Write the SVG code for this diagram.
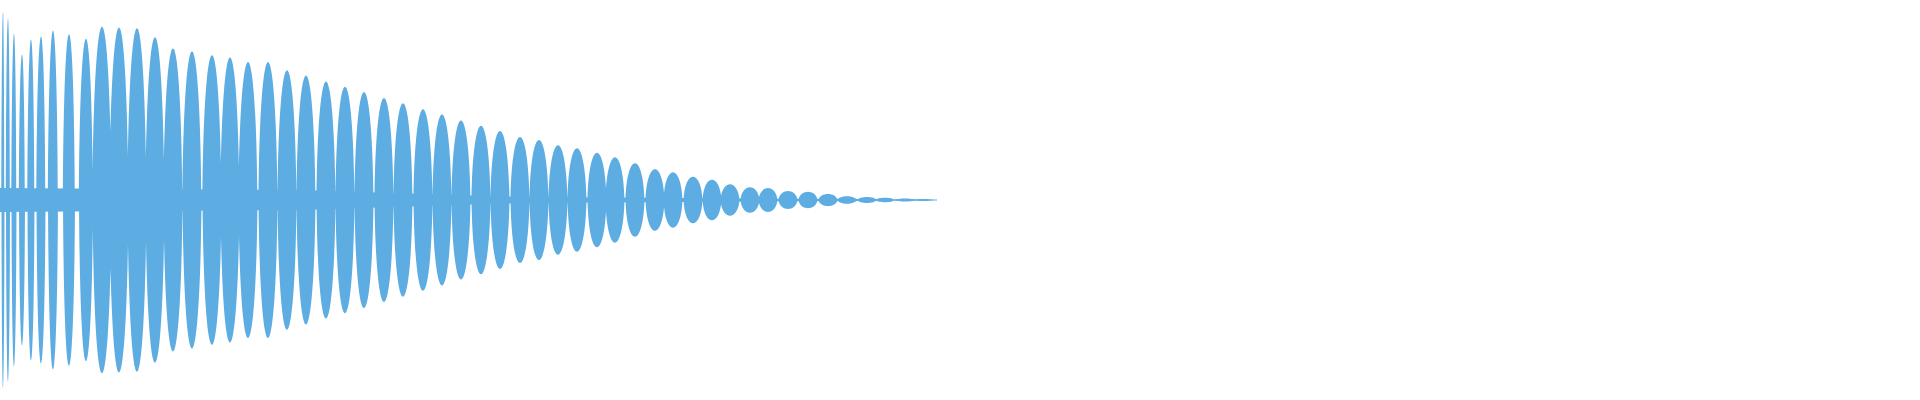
<svg xmlns="http://www.w3.org/2000/svg" width="1920" height="400" viewBox="0 0 1920 400">
<style>.w{fill:#5dade2;stroke:none}</style>
<rect width="1920" height="400" fill="#fff"/>
<g id="waveform">
<polygon class="w" points="0,188 300,190 520,197 937,199.5 937,200.5 520,203 300,210 0,212"/>
<path class="w" d="
M1.5 200 c0.3 -251 2.7 -251 3 0 c-0.3 251 -2.7 251 -3 0z
M6 200 c0.4 -242 3.6 -242 4 0 c-0.4 242 -3.6 242 -4 0z
M11.5 200 c0.5 -222 4.5 -222 5 0 c-0.5 222 -4.5 222 -5 0z
M19 200 c0.6 -194 5.4 -194 6 0 c-0.6 194 -5.4 194 -6 0z
M27.5 200 c0.7 -214 6.3 -214 7 0 c-0.7 214 -6.3 214 -7 0z
M36.5 200 c0.8 -218 8.2 -218 9 0 c-0.8 218 -8.2 218 -9 0z
M48 200 c1 -226 9 -226 10 0 c-1 226 -9 226 -10 0z
M63 200 c1 -221 11 -221 12 0 c-1 221 -11 221 -12 0z
M79 200 c1.2 -215 12.8 -215 14 0 c-1.2 215 -12.8 215 -14 0z
M92.5 200 c1.5 -231 17.5 -231 19 0 c-1.5 231 -17.5 231 -19 0z
M109.5 200 c1.5 -230 17.5 -230 19 0 c-1.5 230 -17.5 230 -19 0z
M127.5 200 c1.5 -229 17.5 -229 19 0 c-1.5 229 -17.5 229 -19 0z
M145.5 200 c1.5 -217 17.5 -217 19 0 c-1.5 217 -17.5 217 -19 0z
M163.5 200 c1.5 -202 17.5 -202 19 0 c-1.5 202 -17.5 202 -19 0z
M182.5 200 c1.5 -198 17.5 -198 19 0 c-1.5 198 -17.5 198 -19 0z
M202.5 200 c1.5 -193 17.5 -193 19 0 c-1.5 193 -17.5 193 -19 0z
M220.5 200 c1.5 -190 17.5 -190 19 0 c-1.5 190 -17.5 190 -19 0z
M238.5 200 c1.5 -184 17.5 -184 19 0 c-1.5 184 -17.5 184 -19 0z
M258.5 200 c1.5 -184 17.5 -184 19 0 c-1.5 184 -17.5 184 -19 0z
M277.5 200 c1.5 -173 17.5 -173 19 0 c-1.5 173 -17.5 173 -19 0z
M296.5 200 c1.5 -166 17.5 -166 19 0 c-1.5 166 -17.5 166 -19 0z
M316.5 200 c1.5 -158 17.5 -158 19 0 c-1.5 158 -17.5 158 -19 0z
M335.5 200 c1.5 -151 17.5 -151 19 0 c-1.5 151 -17.5 151 -19 0z
M354.5 200 c1.5 -144 17.5 -144 19 0 c-1.5 144 -17.5 144 -19 0z
M374.5 200 c1.5 -136 17.5 -136 19 0 c-1.5 136 -17.5 136 -19 0z
M393.5 200 c1.5 -129 17.5 -129 19 0 c-1.5 129 -17.5 129 -19 0z
M413.5 200 c1.5 -121 17.5 -121 19 0 c-1.5 121 -17.5 121 -19 0z
M432.5 200 c1.5 -114 17.5 -114 19 0 c-1.5 114 -17.5 114 -19 0z
M451.5 200 c1.5 -106 17.5 -106 19 0 c-1.5 106 -17.5 106 -19 0z
M471.5 200 c1.5 -99 17.5 -99 19 0 c-1.5 99 -17.5 99 -19 0z
M490.5 200 c1.5 -92 17.5 -92 19 0 c-1.5 92 -17.5 92 -19 0z
M510.5 200 c1.5 -84 17.5 -84 19 0 c-1.5 84 -17.5 84 -19 0z
M529.5 200 c1.5 -80 17.5 -80 19 0 c-1.5 80 -17.5 80 -19 0z
M548.5 200 c1.5 -73 17.5 -73 19 0 c-1.5 73 -17.5 73 -19 0z
M567.5 200 c1.5 -69 17.5 -69 19 0 c-1.5 69 -17.5 69 -19 0z
M587.5 200 c1.5 -63 17.5 -63 19 0 c-1.5 63 -17.5 63 -19 0z
M605.5 200 c1.5 -57 17.5 -57 19 0 c-1.5 57 -17.5 57 -19 0z
M625.5 200 c1.5 -49 17.5 -49 19 0 c-1.5 49 -17.5 49 -19 0z
M645.5 200 c1.5 -41 17.5 -41 19 0 c-1.5 41 -17.5 41 -19 0z
M663.5 200 c1.5 -37 17.5 -37 19 0 c-1.5 37 -17.5 37 -19 0z
M683.5 200 c1.5 -31 17.5 -31 19 0 c-1.5 31 -17.5 31 -19 0z
M702.5 200 c1.5 -27 17.5 -27 19 0 c-1.5 27 -17.5 27 -19 0z
M720.5 200 c1.5 -21 17.5 -21 19 0 c-1.5 21 -17.5 21 -19 0z
M740.5 200 c1.5 -17 17.5 -17 19 0 c-1.5 17 -17.5 17 -19 0z
M758.5 200 c1.5 -16 17.5 -16 19 0 c-1.5 16 -17.5 16 -19 0z
M778.5 200 c1.5 -12 17.5 -12 19 0 c-1.5 12 -17.5 12 -19 0z
M798.5 200 c1.5 -11 17.5 -11 19 0 c-1.5 11 -17.5 11 -19 0z
M818.5 200 c1.5 -8 17.5 -8 19 0 c-1.5 8 -17.5 8 -19 0z
M837.5 200 c1.5 -5 17.5 -5 19 0 c-1.5 5 -17.5 5 -19 0z
M857.5 200 c1.5 -4 17.5 -4 19 0 c-1.5 4 -17.5 4 -19 0z
M875.5 200 c1.5 -3 17.5 -3 19 0 c-1.5 3 -17.5 3 -19 0z
M895.5 200 c1.5 -2 17.5 -2 19 0 c-1.5 2 -17.5 2 -19 0z
M913.5 200 c1.5 -1.3 17.5 -1.3 19 0 c-1.5 1.3 -17.5 1.3 -19 0z"/>
</g>
</svg>
